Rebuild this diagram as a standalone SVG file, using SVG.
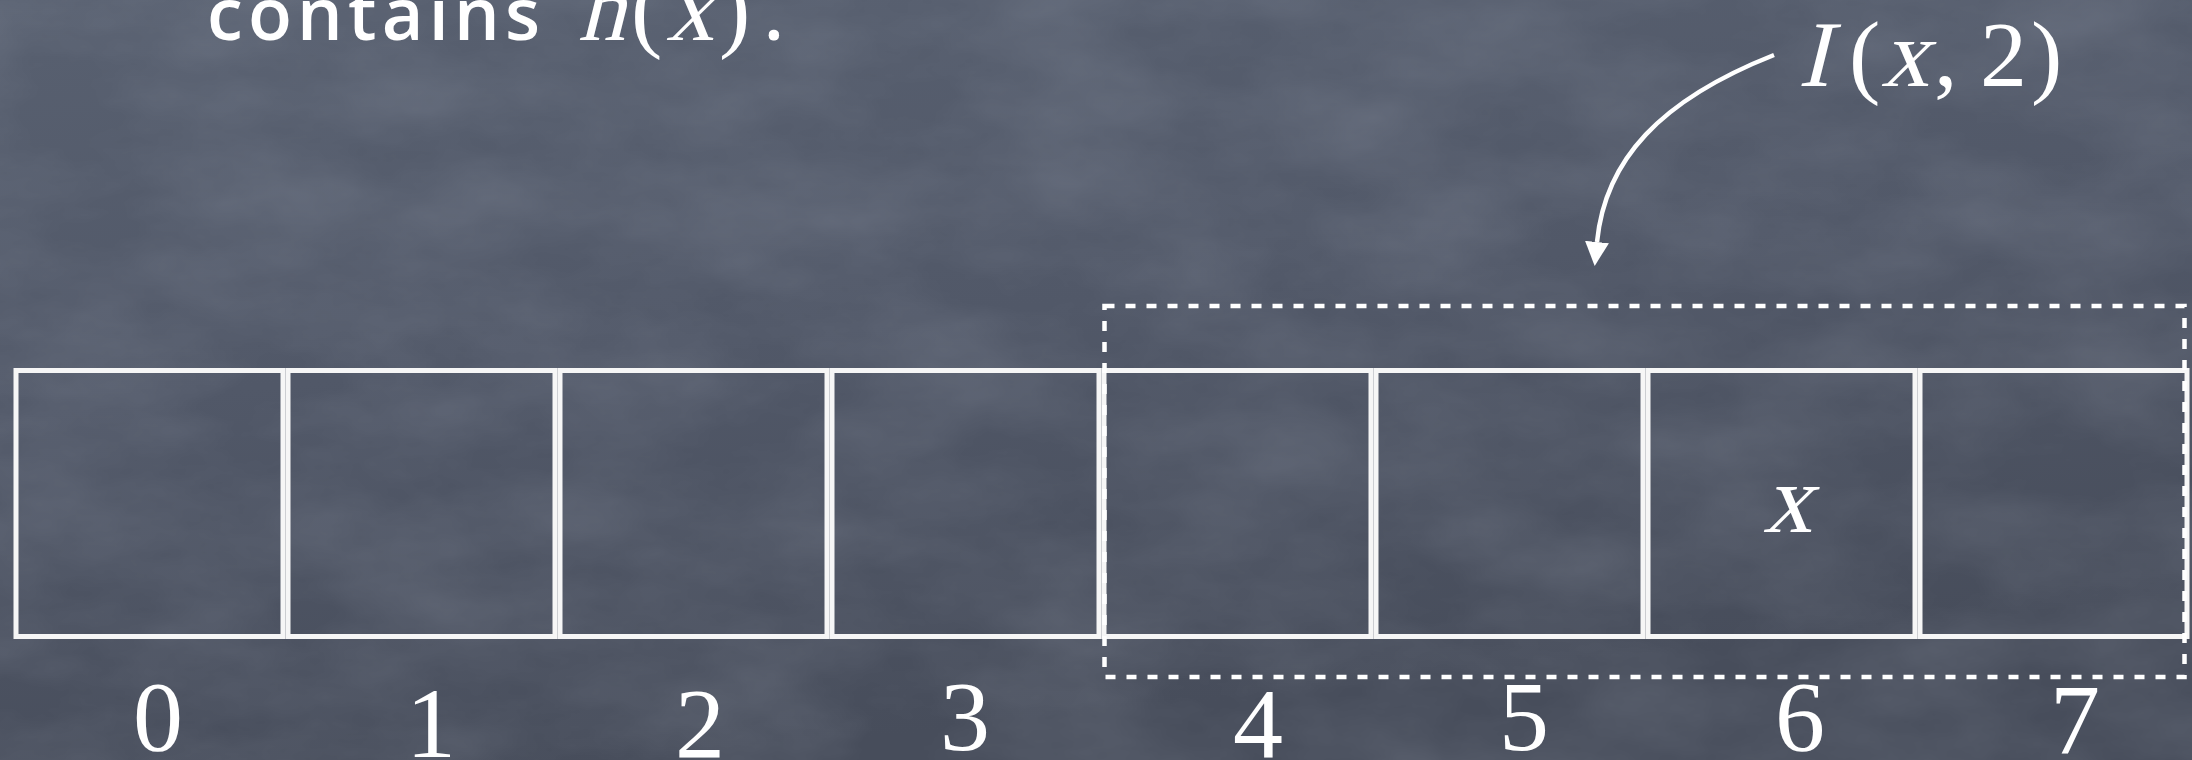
<svg xmlns="http://www.w3.org/2000/svg" width="2192" height="760" viewBox="0 0 2192 760">
  <defs>
    <linearGradient id="bg" x1="0" y1="0" x2="0.3" y2="1">
      <stop offset="0" stop-color="#586070"/>
      <stop offset="0.5" stop-color="#515868"/>
      <stop offset="1" stop-color="#474d5b"/>
    </linearGradient>
    <filter id="chalk" x="0" y="0" width="1" height="1">
      <feTurbulence type="fractalNoise" baseFrequency="0.006 0.012" numOctaves="5" seed="11" result="n"/>
      <feColorMatrix in="n" type="matrix" values="0 0 0 0 0.75  0 0 0 0 0.8  0 0 0 0 0.9  0 0 0 0.18 -0.05"/>
    </filter>
    <marker id="head" markerUnits="userSpaceOnUse" markerWidth="24" markerHeight="24" viewBox="0 0 24 24" refX="0" refY="12" orient="auto">
      <path d="M0,0 L24,12 L0,24 z" fill="#ffffff"/>
    </marker>
    <style>
      .cell { fill: none; stroke: #f6f6f6; stroke-width: 5; }
      .dash { fill: none; stroke: #ffffff; stroke-width: 4.5; stroke-dasharray: 10 11; }
      .math { font-family: "Liberation Serif", "Times New Roman", serif; fill: #ffffff; }
      .num { font-family: "Liberation Serif", "Times New Roman", serif; fill: #ffffff; font-size: 100px; text-anchor: middle; }
      .chalk { font-family: "Open Sans", "Noto Sans", sans-serif; fill: #ffffff; font-size: 72px; font-weight: 600; }
    </style>
  </defs>

  <rect x="0" y="0" width="2192" height="760" fill="url(#bg)"/>
  <rect x="0" y="0" width="2192" height="760" filter="url(#chalk)"/>

  <g id="caption">
    <text class="chalk" x="207" y="40" textLength="333" lengthAdjust="spacing">contains</text>
    <text class="math" transform="translate(578,40) skewX(-14)" x="0" y="0" font-size="94">h</text>
    <text class="math" x="631" y="40" font-size="94">(</text>
    <text class="math" transform="translate(666,40) skewX(-14)" x="0" y="0" font-size="96">x</text>
    <text class="math" x="719" y="40" font-size="94">)</text>
    <text class="chalk" x="764" y="40">.</text>
  </g>

  <g id="label-I">
    <text class="math" transform="translate(1798,86) skewX(-14)" x="0" y="0" font-size="94">I</text>
    <text class="math" x="1849" y="86" font-size="94">(</text>
    <text class="math" transform="translate(1881,86) skewX(-14)" x="0" y="0" font-size="96">x</text>
    <text class="math" x="1934" y="86" font-size="94">,</text>
    <text class="math" x="1980" y="86" font-size="94">2</text>
    <text class="math" x="2031" y="86" font-size="94">)</text>
  </g>

  <g id="cell-0"><rect class="cell" x="16" y="370.5" width="267" height="266"/><text class="num" x="158" y="750">0</text></g>
  <g id="cell-1"><rect class="cell" x="288" y="370.5" width="267" height="266"/><text class="num" x="431" y="757">1</text></g>
  <g id="cell-2"><rect class="cell" x="560" y="370.5" width="267" height="266"/><text class="num" x="700" y="757">2</text></g>
  <g id="cell-3"><rect class="cell" x="832" y="370.5" width="267" height="266"/><text class="num" x="965" y="750">3</text></g>
  <g id="cell-4"><rect class="cell" x="1104" y="370.5" width="267" height="266"/><text class="num" x="1258" y="757">4</text></g>
  <g id="cell-5"><rect class="cell" x="1376" y="370.5" width="267" height="266"/><text class="num" x="1524" y="750">5</text></g>
  <g id="cell-6"><rect class="cell" x="1648" y="370.5" width="267" height="266"/><text class="num" x="1800" y="750">6</text><text class="math" transform="translate(1763,532) skewX(-14)" x="0" y="0" font-size="98">x</text></g>
  <g id="cell-7"><rect class="cell" x="1920" y="370.5" width="267" height="266"/><text class="num" x="2075" y="753">7</text></g>

  <g id="interval">
    <rect class="dash" x="1104.5" y="306" width="1080" height="371"/>
  </g>

  <g id="connectors">
    <path d="M1774,55 C1660,100 1605,160 1597,242" fill="none" stroke="#ffffff" stroke-width="4.5" marker-end="url(#head)"/>
  </g>
</svg>
